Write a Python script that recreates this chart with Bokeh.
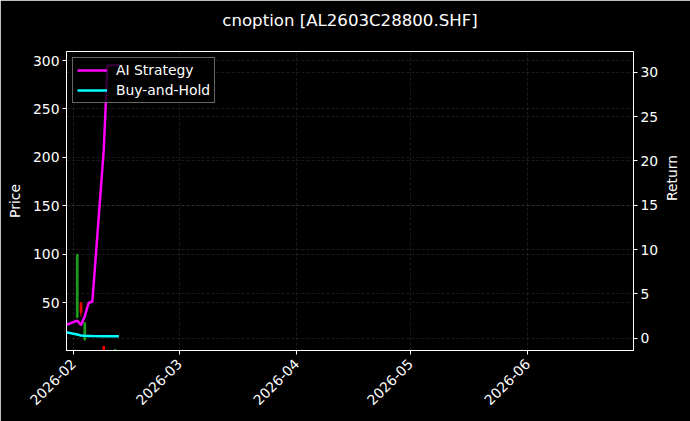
import pandas as pd
from math import pi
from bokeh.plotting import figure
from bokeh.models import (Range1d, LinearAxis, SingleIntervalTicker, MonthsTicker,
                          DatetimeTickFormatter, Grid, Title)
from bokeh.embed import file_html
from bokeh.resources import INLINE

# trading days and equity curves
dates = ["2026-01-30", "2026-02-02", "2026-02-03", "2026-02-04", "2026-02-05", "2026-02-06",
         "2026-02-09", "2026-02-10", "2026-02-11", "2026-02-12", "2026-02-13"]
ai_strategy = [1.48, 1.98, 1.47, 2.47, 3.96, 4.13, 21.2, 30.8, 30.8, 30.8, 30.8]
buy_hold = [0.67, 0.41, 0.30, 0.26, 0.24, 0.23, 0.22, 0.21, 0.21, 0.20, 0.20]

# candles (price axis)
candle_dates = ["2026-02-02", "2026-02-03", "2026-02-04", "2026-02-09", "2026-02-12"]
candle_open = [35, 50, 12, 5.3, 0.6]
candle_high = [100, 50, 29.5, 5.3, 2.0]
candle_low = [34, 36, 11, 0.0, 0.3]
candle_close = [100, 40, 29.5, 0.5, 1.8]

x = pd.to_datetime(dates)
cx = pd.to_datetime(candle_dates)
ccol = ["#1f9e1f" if c >= o else "#ee0000" for o, c in zip(candle_open, candle_close)]

FONT = "DejaVu Sans"
FS = "13.9px"

p = figure(frame_width=567, frame_height=299, x_axis_type="datetime",
           x_range=Range1d(pd.Timestamp("2026-01-30 04:00"), pd.Timestamp("2026-06-28 22:00")),
           y_range=Range1d(0.85, 309.3),
           toolbar_location=None, output_backend="svg",
           min_border_left=66, min_border_right=57, min_border_top=51, min_border_bottom=71)
p.background_fill_color = "black"
p.border_fill_color = "black"
p.outline_line_color = "white"
p.outline_line_width = 1

# spacer between frame and title, then the title itself
p.add_layout(Title(text=" ", text_font_size="1px", text_color="black", standoff=19), "above")
p.add_layout(Title(text="cnoption [AL2603C28800.SHF]", align="center", vertical_align="bottom",
                   standoff=0, text_color="white", text_font=FONT, text_font_size="16.6px",
                   text_font_style="normal"), "above")

p.extra_y_ranges = {"ret": Range1d(-1.40, 32.35)}
right = LinearAxis(y_range_name="ret", axis_label="Return")
p.add_layout(right, "right")
if "axis_label_orientation" in right.properties():
    right.axis_label_orientation = pi / 2

p.yaxis[0].axis_label = "Price"
p.yaxis[0].ticker = SingleIntervalTicker(interval=50)
right.ticker = SingleIntervalTicker(interval=5)

p.xaxis.ticker = MonthsTicker(months=list(range(12)))
p.xaxis.formatter = DatetimeTickFormatter(months="%Y-%m", days="%Y-%m", years="%Y-%m")
p.xaxis.major_label_orientation = pi / 4

for ax in p.axis:
    ax.axis_line_color = "white"
    ax.major_tick_line_color = "white"
    ax.major_tick_out = 4
    ax.major_tick_in = 0
    ax.minor_tick_line_color = None
    ax.major_label_text_color = "white"
    ax.major_label_text_font = FONT
    ax.major_label_text_font_size = FS
    ax.major_label_standoff = 3
    ax.axis_label_text_color = "white"
    ax.axis_label_text_font = FONT
    ax.axis_label_text_font_size = FS
    ax.axis_label_text_font_style = "normal"
    ax.axis_label_standoff = 7
p.xaxis.major_label_standoff = 7
right.axis_label_standoff = 11

p.grid.grid_line_color = "#808080"
p.grid.grid_line_alpha = 0.35
p.grid.grid_line_dash = "3 2"
p.grid.grid_line_width = 0.6
g2 = Grid(dimension=1, ticker=right.ticker, y_range_name="ret",
          grid_line_color="#808080", grid_line_alpha=0.35, grid_line_dash="3 2",
          grid_line_width=0.6)
p.add_layout(g2)

# candles
p.segment(cx, candle_low, cx, candle_high, line_color=ccol, line_width=1.2)
p.vbar(x=cx, width=0.45 * 86400000, top=candle_close, bottom=candle_open,
       fill_color=ccol, line_color=ccol)

# return curves
p.line(x, ai_strategy, y_range_name="ret", line_color="#ff00ff", line_width=2.5,
       legend_label="AI Strategy")
p.line(x, buy_hold, y_range_name="ret", line_color="#00ffff", line_width=2.5,
       legend_label="Buy-and-Hold")

lg = p.legend[0]
lg.location = "top_left"
lg.margin = 6
lg.padding = 4
lg.spacing = 4
lg.label_height = 16
lg.glyph_height = 16
lg.glyph_width = 30
lg.label_standoff = 9
lg.background_fill_color = "black"
lg.background_fill_alpha = 0.8
lg.border_line_color = "#cccccc"
lg.label_text_color = "white"
lg.label_text_font = FONT
lg.label_text_font_size = FS

open("out.html", "w").write(file_html(p, INLINE))
